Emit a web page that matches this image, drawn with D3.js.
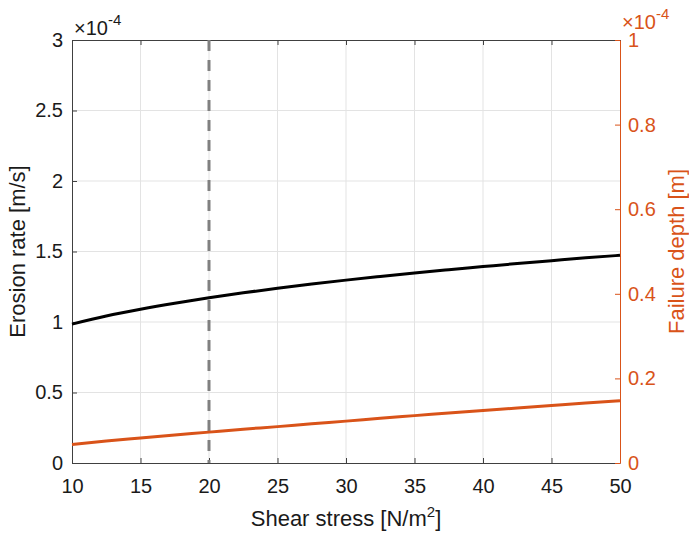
<!DOCTYPE html>
<html>
<head>
<meta charset="utf-8">
<script src="https://cdn.jsdelivr.net/npm/d3@7"></script>
<style>
  body { margin: 0; background: #fff; }
  text { font-family: "Liberation Sans", Arial, sans-serif; }
</style>
</head>
<body>
<svg width="689" height="534"></svg>
<script>
// Shear stress values (x)
var shear = [10, 12.5, 15, 17.5, 20, 22.5, 25, 27.5, 30, 32.5, 35, 37.5, 40, 42.5, 45, 47.5, 50];
// Erosion rate, in units of 1e-4 m/s
var erosion = [0.985, 1.042, 1.090, 1.133, 1.172, 1.207, 1.239, 1.269, 1.297, 1.323, 1.348, 1.371, 1.393, 1.415, 1.435, 1.455, 1.473];
// Failure depth, in units of 1e-4 m
var failure = [0.044, 0.052, 0.059, 0.066, 0.073, 0.080, 0.086, 0.093, 0.099, 0.106, 0.112, 0.118, 0.124, 0.130, 0.136, 0.142, 0.147];
var xTicks = [10, 15, 20, 25, 30, 35, 40, 45, 50];
var yTicks = [0, 0.5, 1, 1.5, 2, 2.5, 3];
var y2Ticks = [0, 0.2, 0.4, 0.6, 0.8, 1];
var markerX = 20;

var svg = d3.select("svg"),
    orange = "#D95319",
    axisCol = "#404040";

var mLeft = 72, mRight = 620, mTop = 40, mBottom = 463;

var x = d3.scaleLinear().domain([10, 50]).range([mLeft, mRight]);
var y = d3.scaleLinear().domain([0, 3]).range([mBottom, mTop]);
var y2 = d3.scaleLinear().domain([0, 1]).range([mBottom, mTop]);

// grid
var grid = svg.append("g").attr("stroke", "#e3e3e3").attr("stroke-width", 1);
grid.selectAll("line.gx")
    .data(xTicks.slice(1, -1))
    .enter().append("line")
    .attr("x1", function (d) { return x(d); })
    .attr("x2", function (d) { return x(d); })
    .attr("y1", mTop).attr("y2", mBottom);
grid.selectAll("line.gy")
    .data(yTicks.slice(1, -1))
    .enter().append("line")
    .attr("x1", mLeft).attr("x2", mRight)
    .attr("y1", function (d) { return y(d); })
    .attr("y2", function (d) { return y(d); });

// axes
var fmt = function (d) { return String(d); };

var xAxis = svg.append("g")
    .attr("transform", "translate(0," + mBottom + ")")
    .call(d3.axisBottom(x).tickValues(xTicks).tickSizeInner(-5).tickSizeOuter(0).tickPadding(16).tickFormat(fmt));
var xTop = svg.append("g")
    .attr("transform", "translate(0," + mTop + ")")
    .call(d3.axisTop(x).tickValues(xTicks).tickSizeInner(-5).tickSizeOuter(0).tickFormat(""));
var yAxis = svg.append("g")
    .attr("transform", "translate(" + mLeft + ",0)")
    .call(d3.axisLeft(y).tickValues(yTicks).tickSizeInner(-5).tickSizeOuter(0).tickPadding(9).tickFormat(fmt));
var y2Axis = svg.append("g")
    .attr("transform", "translate(" + mRight + ",0)")
    .call(d3.axisRight(y2).tickValues(y2Ticks).tickSizeInner(-5).tickSizeOuter(0).tickPadding(8).tickFormat(fmt));

[xAxis, xTop, yAxis].forEach(function (g) {
    g.selectAll("path").attr("stroke", axisCol);
    g.selectAll("line").attr("stroke", axisCol);
    g.selectAll("text").attr("fill", "#1a1a1a").style("font-size", "20px")
        .style("font-family", "Liberation Sans, Arial, sans-serif");
});
y2Axis.selectAll("path").attr("stroke", orange);
y2Axis.selectAll("line").attr("stroke", orange);
y2Axis.selectAll("text").attr("fill", orange).style("font-size", "20px")
    .style("font-family", "Liberation Sans, Arial, sans-serif");

// dashed marker
svg.append("line")
    .attr("x1", x(markerX)).attr("x2", x(markerX))
    .attr("y1", y(3)).attr("y2", y(0))
    .attr("stroke", "#808080")
    .attr("stroke-width", 3)
    .attr("stroke-dasharray", "11,9");

// lines
var line1 = d3.line()
    .x(function (d, i) { return x(shear[i]); })
    .y(function (d) { return y(d); })
    .curve(d3.curveMonotoneX);
var line2 = d3.line()
    .x(function (d, i) { return x(shear[i]); })
    .y(function (d) { return y2(d); })
    .curve(d3.curveMonotoneX);

svg.append("path")
    .datum(erosion)
    .attr("d", line1)
    .attr("fill", "none")
    .attr("stroke", "#000")
    .attr("stroke-width", 3);
svg.append("path")
    .datum(failure)
    .attr("d", line2)
    .attr("fill", "none")
    .attr("stroke", orange)
    .attr("stroke-width", 3);

// axis labels
svg.append("text")
    .attr("x", (mLeft + mRight) / 2)
    .attr("y", 526)
    .attr("text-anchor", "middle")
    .attr("fill", "#1a1a1a")
    .style("font-size", "22px")
    .html('Shear stress [N/m<tspan dy="-9" font-size="15px">2</tspan><tspan dy="9">]</tspan>');

svg.append("text")
    .attr("transform", "translate(25," + (mTop + mBottom) / 2 + ") rotate(-90)")
    .attr("text-anchor", "middle")
    .attr("fill", "#1a1a1a")
    .style("font-size", "22px")
    .text("Erosion rate [m/s]");

svg.append("text")
    .attr("transform", "translate(684," + (mTop + mBottom) / 2 + ") rotate(-90)")
    .attr("text-anchor", "middle")
    .attr("fill", orange)
    .style("font-size", "22px")
    .text("Failure depth [m]");

// exponent labels
svg.append("text")
    .attr("x", 74).attr("y", 35)
    .attr("fill", "#1a1a1a")
    .style("font-size", "20px")
    .html('\u00d710<tspan dy="-10" font-size="15px">-4</tspan>');
svg.append("text")
    .attr("x", 622).attr("y", 29)
    .attr("fill", orange)
    .style("font-size", "20px")
    .html('\u00d710<tspan dy="-10" font-size="15px">-4</tspan>');
</script>
</body>
</html>
